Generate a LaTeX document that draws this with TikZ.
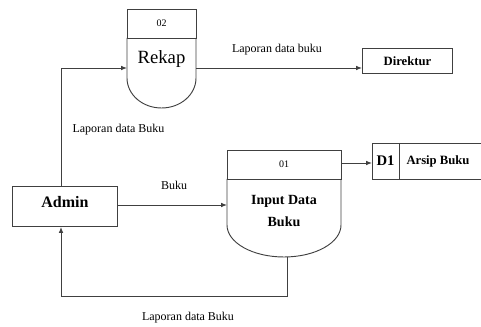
\documentclass[tikz,border=0pt]{standalone}
\usepackage{fontspec}
\setmainfont{Liberation Serif}
\usetikzlibrary{arrows.meta}
\begin{document}
\begin{tikzpicture}[x=0.75pt,y=-0.75pt,
  line/.style={draw=black!75, line width=0.7pt},
  flow/.style={line, -{Latex[length=4.5pt,width=3.5pt]}},
  lbl/.style={font=\fontsize{9}{10}\selectfont, inner sep=0pt},
  ent/.style={line, fill=white, inner sep=0pt, anchor=north west}]
\useasboundingbox (0,0) rectangle (481,327);

% --- external entities ---
\node[ent, minimum width=105*0.75pt, minimum height=40*0.75pt] (admin) at (12,186) {};
\node[font=\fontsize{12}{14}\selectfont\bfseries] at ([yshift=3pt]admin.center) {Admin};
\node[ent, minimum width=90*0.75pt, minimum height=25*0.75pt,
      font=\fontsize{9.5}{11}\selectfont\bfseries] (direktur) at (362,48) {Direktur};

% --- process 02: Rekap ---
\coordinate (rk-in) at (127,68);
\coordinate (rk-out) at (196,68);
\draw[line] (127,9) rectangle (196,38);
\draw[line] (127,38) -- (127,78) arc[start angle=180, end angle=0, x radius=34.5, y radius=30] -- (196,38);
\node[font=\fontsize{7.5}{8}\selectfont] at (161.5,23.5) {02};
\node[font=\fontsize{14}{16}\selectfont] (rekap) at (161.5,59) {Rekap};

% --- process 01: Input Data Buku ---
\coordinate (in-in) at (227,205);
\coordinate (in-out) at (341,163);
\coordinate (in-bot) at (287,257);
\draw[line] (227,150) rectangle (341,179);
\draw[line] (227,179) -- (227,225) arc[start angle=180, end angle=0, x radius=57, y radius=32] -- (341,179);
\node[font=\fontsize{7.5}{8}\selectfont] at (284,164.5) {01};
\node[font=\fontsize{10.5}{17}\selectfont\bfseries, align=center] (input) at (284,211) {Input Data\\Buku};

% --- data store D1 ---
\coordinate (ds-in) at (372,163);
\draw[line] (481,143) -- (372,143) -- (372,179) -- (481,179);
\draw[line] (399,143) -- (399,179);
\node[font=\fontsize{11}{13}\selectfont\bfseries] (d1) at (385.5,161) {D1};
\node[font=\fontsize{9.5}{11}\selectfont\bfseries] (arsip) at (438,161) {Arsip Buku};

% --- flows ---
\coordinate (up-corner) at (61,68);
\coordinate (dn-right) at (287,296);
\coordinate (dn-left) at (61,296);
\draw[flow] (admin.north -| up-corner) -- (up-corner) -- (rk-in);
\draw[flow] (rk-out) -- (rk-out -| direktur.west);
\draw[flow] (admin.east |- in-in) -- (in-in);
\draw[flow] (in-out) -- (ds-in);
\draw[flow] (in-bot) -- (dn-right) -- (dn-left) -- (admin.south -| dn-left);

% --- flow labels ---
\node[lbl] at (277,50) {Laporan data buku};
\node[lbl] at (118.5,130) {Laporan data Buku};
\node[lbl] at (174,185) {Buku};
\node[lbl] at (188,318) {Laporan data Buku};
\end{tikzpicture}
\end{document}
